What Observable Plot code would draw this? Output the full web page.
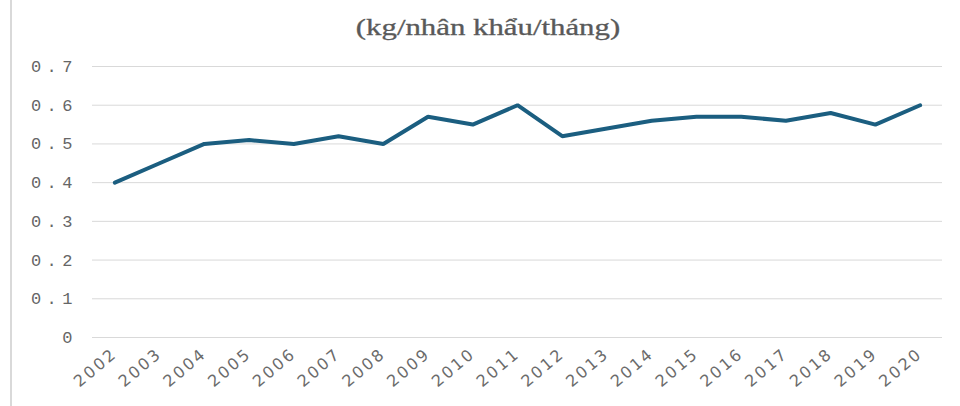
<!DOCTYPE html>
<html>
<head>
<meta charset="utf-8">
<script src="https://cdn.jsdelivr.net/npm/d3@7"></script>
<script src="https://cdn.jsdelivr.net/npm/@observablehq/plot@0.6"></script>
<style>
  html, body { margin: 0; padding: 0; background: #fff; }
  #wrap { position: relative; width: 960px; height: 406px; overflow: hidden; }
  #wrap::before { content: ""; position: absolute; left: 10px; top: 0; width: 2px; height: 406px; background: #d9d9d9; }
  #title { height: 48px; position: relative; }
  #title span { position: absolute; left: 488px; top: 27px; transform: translate(-50%, -50%) scale(1.4, 1.08); white-space: nowrap;
    font-family: "Liberation Serif", "DejaVu Serif", serif; font-weight: normal; font-size: 22px; color: #595959; -webkit-text-stroke: 0.3px #595959; }
  #chart svg { display: block; }
  #chart g[aria-label="y-axis tick label"] text { letter-spacing: 5.5px; }
  #chart g[aria-label="x-axis tick label"] text { letter-spacing: 2.4px; }
</style>
</head>
<body>
<div id="wrap">
  <div id="title"><span>(kg/nhân khẩu/tháng)</span></div>
  <div id="chart"></div>
</div>
<script>
const years = ["2002","2003","2004","2005","2006","2007","2008","2009","2010","2011","2012","2013","2014","2015","2016","2017","2018","2019","2020"];
const values = [0.40,0.45,0.50,0.51,0.50,0.52,0.50,0.57,0.55,0.60,0.52,0.54,0.56,0.57,0.57,0.56,0.58,0.55,0.60];
const yTicks = [0,0.1,0.2,0.3,0.4,0.5,0.6,0.7];

const data = years.map((y, i) => ({year: y, value: values[i]}));

const chart = Plot.plot({
  width: 960,
  height: 358,
  marginTop: 18,
  marginBottom: 69,
  marginLeft: 92,
  marginRight: 18,
  style: {background: "transparent", overflow: "visible"},
  x: {type: "point", domain: years, padding: 0.5, round: false, label: null},
  y: {domain: [0, 0.7], label: null},
  marks: [
    Plot.ruleY(yTicks, {stroke: "#d9d9d9", strokeWidth: 1}),
    Plot.axisY({ticks: yTicks, tickSize: 0, tickPadding: 14.5, tickFormat: d => d === 0 ? "0" : d3.format(".1f")(d), fontFamily: "Liberation Mono, DejaVu Sans Mono, monospace", fontSize: 17, fill: "#666666"}),
    Plot.axisX({tickSize: 0, tickPadding: 14, tickRotate: -40, fontFamily: "DejaVu Sans, sans-serif", fontSize: 16, fill: "#6b6b6b"}),
    Plot.line(data, {x: "year", y: "value", stroke: "#1b5e80", strokeWidth: 4, strokeLinejoin: "miter", strokeLinecap: "round"})
  ]
});

document.getElementById("chart").appendChild(chart);
</script>
</body>
</html>
